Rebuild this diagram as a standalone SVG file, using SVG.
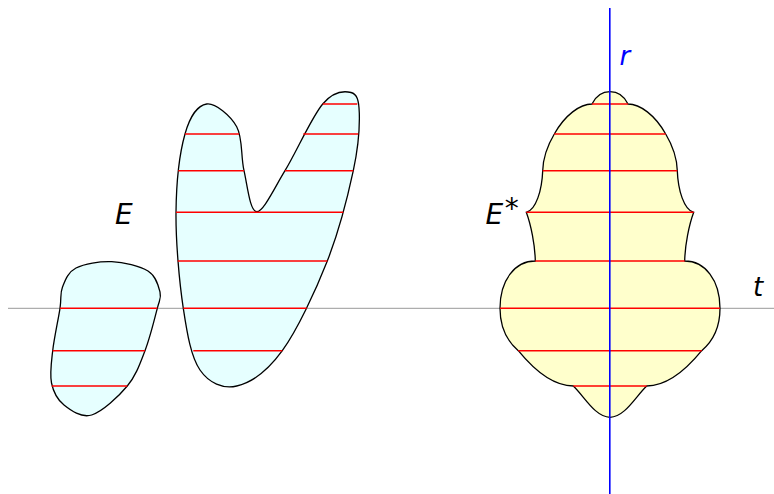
<svg xmlns="http://www.w3.org/2000/svg" width="774" height="494" viewBox="0 0 774 494">
<style>
.axis{stroke:#999;stroke-width:1;fill:none}
.setE{fill:#e6ffff;stroke:#000;stroke-width:1.3}
.setS{fill:#ffffcc;stroke:#000;stroke-width:1.3}
.chord{stroke:#ff0000;stroke-width:1.6;fill:none}
.raxis{stroke:#0000ff;stroke-width:1.6;fill:none}
.lbl{font-family:"DejaVu Sans",sans-serif;font-style:italic;font-size:26px;fill:#000}
.big{font-size:28px}
</style>
<rect width="774" height="494" fill="#fff"/>
<g id="connectors">
<line class="axis" x1="8" y1="308.3" x2="774" y2="308.3"/>
</g>
<g id="set-E-small">
<path class="setE" d="M111.7,261.7 C123.7,262.2 139.95,265.95 148,271 C156.05,276.05 158.45,285.78 160,292 C161.55,298.22 159.8,298.52 157.3,308.3 C154.8,318.08 150,337.75 145,350.7 C140,363.65 136.18,375.28 127.3,386 C118.42,396.72 102.25,411.83 91.7,415 C81.15,418.17 70.7,410.33 64,405 C57.3,399.67 53.38,392.05 51.5,383 C49.62,373.95 51.28,363.15 52.7,350.7 C54.12,338.25 58.37,318.92 60,308.3 C61.63,297.68 59.83,293.72 62.5,287 C65.17,280.28 67.8,272.22 76,268 C84.2,263.78 99.7,261.2 111.7,261.7 Z"/>
<line class="chord" x1="60" y1="308.3" x2="157.3" y2="308.3"/>
<line class="chord" x1="52.7" y1="350.7" x2="145" y2="350.7"/>
<line class="chord" x1="51.7" y1="386" x2="127.3" y2="386"/>
</g>
<g id="set-E-large">
<path class="setE" d="M206.7,104 C215.3,102.8 230.5,115.6 236.7,126.7 C242.9,137.8 240.7,156.5 244,170.7 C247.3,184.9 249.9,211.7 256.7,211.7 C263.5,211.7 274,188.65 285,170.7 C296,152.75 311.7,117.03 322.7,104 C333.7,90.97 344.9,91 351,92.5 C357.1,94 358.9,99.97 359.3,113 C359.7,126 358.6,146 353.3,170.7 C348,195.4 339.1,231 327.3,261 C315.5,291 297.4,329.9 282.3,350.7 C267.2,371.5 250.4,382.8 236.7,386 C223,389.2 208.9,383 200,370 C191.1,357.05 187.3,334.6 183.3,308.3 C179.3,282 175.7,241.35 176,212.3 C176.3,183.25 179.9,152.05 185,134 C190.1,115.95 198.1,105.2 206.7,104 Z"/>
<line class="chord" x1="322.7" y1="104" x2="357.3" y2="104"/>
<line class="chord" x1="185" y1="134" x2="239" y2="134"/>
<line class="chord" x1="303.3" y1="134" x2="358.3" y2="134"/>
<line class="chord" x1="178.3" y1="170.7" x2="244" y2="170.7"/>
<line class="chord" x1="285" y1="170.7" x2="353.3" y2="170.7"/>
<line class="chord" x1="176" y1="212.3" x2="343.3" y2="212.3"/>
<line class="chord" x1="177.7" y1="261" x2="327.3" y2="261"/>
<line class="chord" x1="183.3" y1="308.3" x2="306.7" y2="308.3"/>
<line class="chord" x1="193.3" y1="350.7" x2="282.3" y2="350.7"/>
</g>
<g id="label-E">
<text class="lbl big" x="115" y="224">E</text>
</g>
<g id="set-E-star">
<path class="setS" d="M610,91.7 C619,91.7 624,96 628,104 C640,104 655,115 665.7,134 C674,148 677,160 677.3,170.7 C678,190 684,210 693.7,212.3 C689,225 685,245 684.7,261 C705,261 720,280 720,308.3 C720,330 712,342 701.7,350.7 C690,365 670,386 646.7,386 C636,396 625,417 610,417.3 C595,417 584,396 573.3,386 C550,386 530,365 518.3,350.7 C508,342 500,330 500,308.3 C500,280 515,261 535.3,261 C535,245 531,225 526.3,212.3 C536,210 542,190 542.7,170.7 C543,160 546,148 554.3,134 C565,115 580,104 592,104 C596,96 601,91.7 610,91.7 Z"/>
<line class="chord" x1="592" y1="104" x2="628" y2="104"/>
<line class="chord" x1="554.3" y1="134" x2="665.7" y2="134"/>
<line class="chord" x1="542.7" y1="170.7" x2="677.3" y2="170.7"/>
<line class="chord" x1="526.3" y1="212.3" x2="693.7" y2="212.3"/>
<line class="chord" x1="535.3" y1="261" x2="684.7" y2="261"/>
<line class="chord" x1="500" y1="308.3" x2="720" y2="308.3"/>
<line class="chord" x1="518.3" y1="350.7" x2="701.7" y2="350.7"/>
<line class="chord" x1="573.3" y1="386" x2="646.7" y2="386"/>
</g>
<g id="label-E-star">
<text class="lbl big" x="485.6" y="223.5">E<tspan dx="1.5" dy="-6">*</tspan></text>
</g>
<g id="axis-r">
<line class="raxis" x1="609.8" y1="8" x2="609.8" y2="494"/>
<text class="lbl" x="619.5" y="65" style="fill:#0000ff">r</text>
</g>
<g id="axis-t">
<text class="lbl" x="753" y="296">t</text>
</g>
</svg>
